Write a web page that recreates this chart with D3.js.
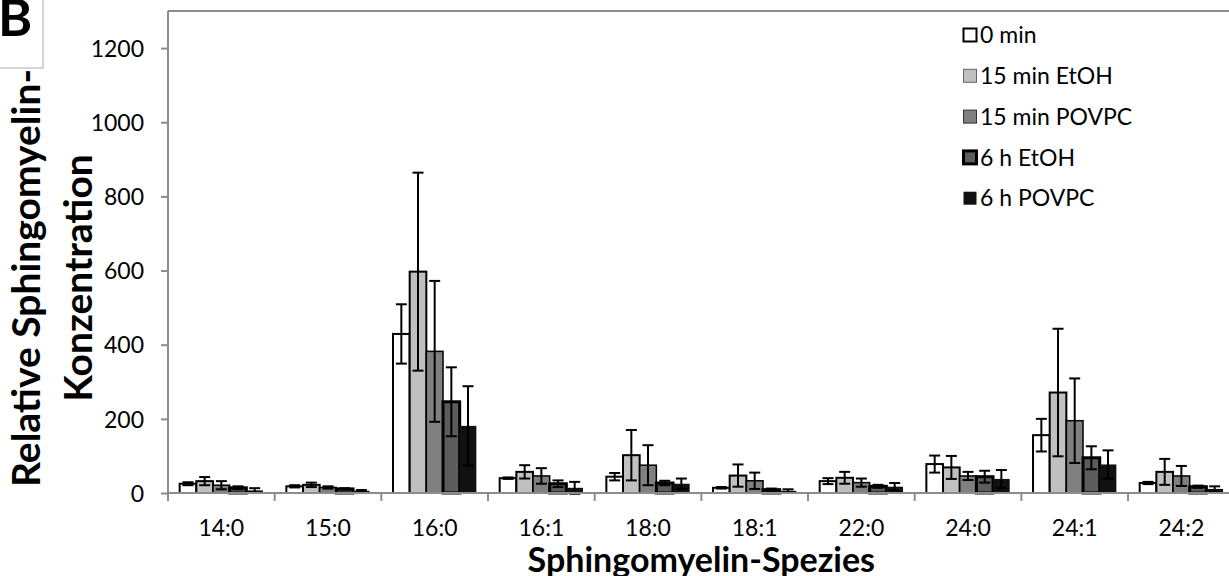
<!DOCTYPE html>
<html>
<head>
  <meta charset="utf-8">
  <script src="https://cdn.jsdelivr.net/npm/d3@7"></script>
  <style>
    body, html {
      margin: 0;
      padding: 0;
      background: white;
      overflow: hidden;
    }
    svg text {
      font-family: 'Lato', 'Open Sans', sans-serif;
      fill: #000;
    }
  </style>
</head>
<body>
  <svg id="chart" width="1229" height="576"></svg>
  <script>
    // Sphingomyelin species on the x axis
    const categories = ["14:0", "15:0", "16:0", "16:1", "18:0", "18:1", "22:0", "24:0", "24:1", "24:2"];

    const seriesNames = ["0 min", "15 min EtOH", "15 min POVPC", "6 h EtOH", "6 h POVPC"];

    // mean values, one array per series
    const val0min = [25, 18, 429, 40, 44, 14, 32, 78, 156, 27];
    const val15EtOH = [32, 22, 597, 57, 102, 47, 41, 69, 271, 57];
    const val15POVPC = [21, 15, 382, 46, 75, 33, 28, 46, 195, 46];
    const val6hEtOH = [14, 11, 246, 25, 27, 9, 18, 44, 95, 17];
    const val6hPOVPC = [7, 6, 181, 14, 25, 6, 17, 38, 77, 11];

    // error bar half lengths
    const err0min = [4, 3, 80, 2, 10, 2, 8, 23, 44, 3];
    const err15EtOH = [11, 6, 267, 18, 68, 30, 16, 31, 172, 35];
    const err15POVPC = [11, 3, 190, 21, 54, 22, 11, 11, 114, 27];
    const err6hEtOH = [4, 2, 93, 9, 6, 3, 4, 16, 31, 3];
    const err6hPOVPC = [6, 2, 107, 16, 14, 4, 10, 24, 38, 7];

    const yTicks = [0, 200, 400, 600, 800, 1000, 1200];

    const values = [val0min, val15EtOH, val15POVPC, val6hEtOH, val6hPOVPC];
    const errors = [err0min, err15EtOH, err15POVPC, err6hEtOH, err6hPOVPC];

    // bar looks, same order as seriesNames
    const styles = [
      { fill: "#ffffff", stroke: "#000", sw: 2, lstroke: "#000", lsw: 2 },
      { fill: "#c0c0c0", stroke: "#000", sw: 2, lstroke: "#666", lsw: 1 },
      { fill: "#808080", stroke: "#000", sw: 1.5, lstroke: "#333", lsw: 1 },
      { fill: "#5c5c5c", stroke: "#000", sw: 3, lstroke: "#000", lsw: 3 },
      { fill: "#111111", stroke: "none", sw: 0, lstroke: "none", lsw: 0 }
    ];

    const svg = d3.select("#chart");

    const plotLeft = 168, plotTop = 11, plotBottom = 493;
    const plotRight = plotLeft + 10 * 106.67;

    const x = d3.scaleBand()
      .domain(categories)
      .range([plotLeft, plotRight])
      .paddingInner(0)
      .paddingOuter(0);

    const xs = d3.scaleBand()
      .domain(seriesNames)
      .range([0, x.bandwidth()])
      .paddingInner(0)
      .paddingOuter(0.7);

    const y = d3.scaleLinear()
      .domain([0, 1300])
      .range([plotBottom, plotTop]);

    const axisColor = "#8c8c8c";

    // plot area top border
    svg.append("line")
      .attr("x1", plotLeft).attr("x2", plotRight)
      .attr("y1", plotTop).attr("y2", plotTop)
      .attr("stroke", axisColor)
      .attr("stroke-width", 2);

    // bars
    const rows = [];
    categories.forEach((c, ci) => {
      seriesNames.forEach((s, si) => {
        rows.push({ cat: c, ser: s, si: si, v: values[si][ci], e: errors[si][ci] });
      });
    });

    svg.append("g")
      .selectAll("rect")
      .data(rows)
      .join("rect")
      .attr("x", d => x(d.cat) + xs(d.ser))
      .attr("y", d => y(d.v))
      .attr("width", xs.bandwidth())
      .attr("height", d => y(0) - y(d.v))
      .attr("fill", d => styles[d.si].fill)
      .attr("stroke", d => styles[d.si].stroke)
      .attr("stroke-width", d => styles[d.si].sw);

    // error bars
    const capW = 11;
    const eb = svg.append("g")
      .attr("stroke", "#000")
      .attr("stroke-width", 2)
      .selectAll("g")
      .data(rows)
      .join("g")
      .attr("transform", d => `translate(${x(d.cat) + xs(d.ser) + xs.bandwidth() / 2},0)`);

    eb.append("line")
      .attr("y1", d => y(d.v + d.e))
      .attr("y2", d => y(d.v - d.e));
    eb.append("line")
      .attr("x1", -capW / 2).attr("x2", capW / 2)
      .attr("y1", d => y(d.v + d.e)).attr("y2", d => y(d.v + d.e));
    eb.append("line")
      .attr("x1", -capW / 2).attr("x2", capW / 2)
      .attr("y1", d => y(d.v - d.e)).attr("y2", d => y(d.v - d.e));

    // y axis
    const yAxis = svg.append("g")
      .attr("transform", `translate(${plotLeft},0)`)
      .call(d3.axisLeft(y).tickValues(yTicks).tickSize(7).tickPadding(17).tickFormat(d3.format("d")));
    yAxis.select(".domain")
      .attr("d", `M0,${plotTop}V${plotBottom}`)
      .attr("stroke", axisColor)
      .attr("stroke-width", 2);
    yAxis.selectAll(".tick line").attr("stroke", axisColor).attr("stroke-width", 2);
    yAxis.selectAll(".tick text")
      .style("font-size", "23px")
      .attr("dy", "0.36em");

    // x axis: labels at band centres, ticks at band edges
    const xAxis = svg.append("g")
      .attr("transform", `translate(0,${plotBottom})`);
    xAxis.append("line")
      .attr("x1", plotLeft).attr("x2", plotRight)
      .attr("stroke", axisColor)
      .attr("stroke-width", 2);
    xAxis.selectAll(".xt")
      .data(categories.concat(["end"]))
      .join("line")
      .attr("class", "xt")
      .attr("x1", d => d === "end" ? plotRight : x(d))
      .attr("x2", d => d === "end" ? plotRight : x(d))
      .attr("y1", 0).attr("y2", 8)
      .attr("stroke", axisColor)
      .attr("stroke-width", 2);
    xAxis.selectAll(".xl")
      .data(categories)
      .join("text")
      .attr("class", "xl")
      .attr("x", d => x(d) + x.bandwidth() / 2)
      .attr("y", 43)
      .attr("text-anchor", "middle")
      .style("font-size", "23px")
      .text(d => d);

    // axis titles
    svg.append("text")
      .attr("x", (plotLeft + plotRight) / 2)
      .attr("y", 572)
      .attr("text-anchor", "middle")
      .style("font-size", "34px")
      .style("font-weight", "bold")
      .text("Sphingomyelin-Spezies");

    const yTitle = svg.append("g")
      .attr("transform", "translate(40,278) rotate(-90)");
    yTitle.append("text")
      .attr("text-anchor", "middle")
      .style("font-size", "39px")
      .style("font-weight", "bold")
      .text("Relative Sphingomyelin-");
    yTitle.append("text")
      .attr("y", 52)
      .attr("text-anchor", "middle")
      .style("font-size", "39px")
      .style("font-weight", "bold")
      .text("Konzentration");

    // legend
    const legend = svg.append("g")
      .selectAll("g")
      .data(seriesNames)
      .join("g")
      .attr("transform", (d, i) => `translate(970,${35 + i * 40.8})`);
    legend.append("rect")
      .attr("x", -6.5).attr("y", -6.5)
      .attr("width", 13).attr("height", 13)
      .attr("fill", (d, i) => styles[i].fill)
      .attr("stroke", (d, i) => styles[i].lstroke)
      .attr("stroke-width", (d, i) => styles[i].lsw);
    legend.append("text")
      .attr("x", 10)
      .attr("dy", "0.36em")
      .style("font-size", "23px")
      .text(d => d);

    // panel letter
    svg.append("rect")
      .attr("x", -2).attr("y", -2)
      .attr("width", 45).attr("height", 70)
      .attr("fill", "#fff")
      .attr("stroke", "#c8c8c8")
      .attr("stroke-width", 1.5);
    svg.append("text")
      .attr("x", -2)
      .attr("y", 36)
      .style("font-size", "52px")
      .style("font-weight", "bold")
      .text("B");
  </script>
</body>
</html>
